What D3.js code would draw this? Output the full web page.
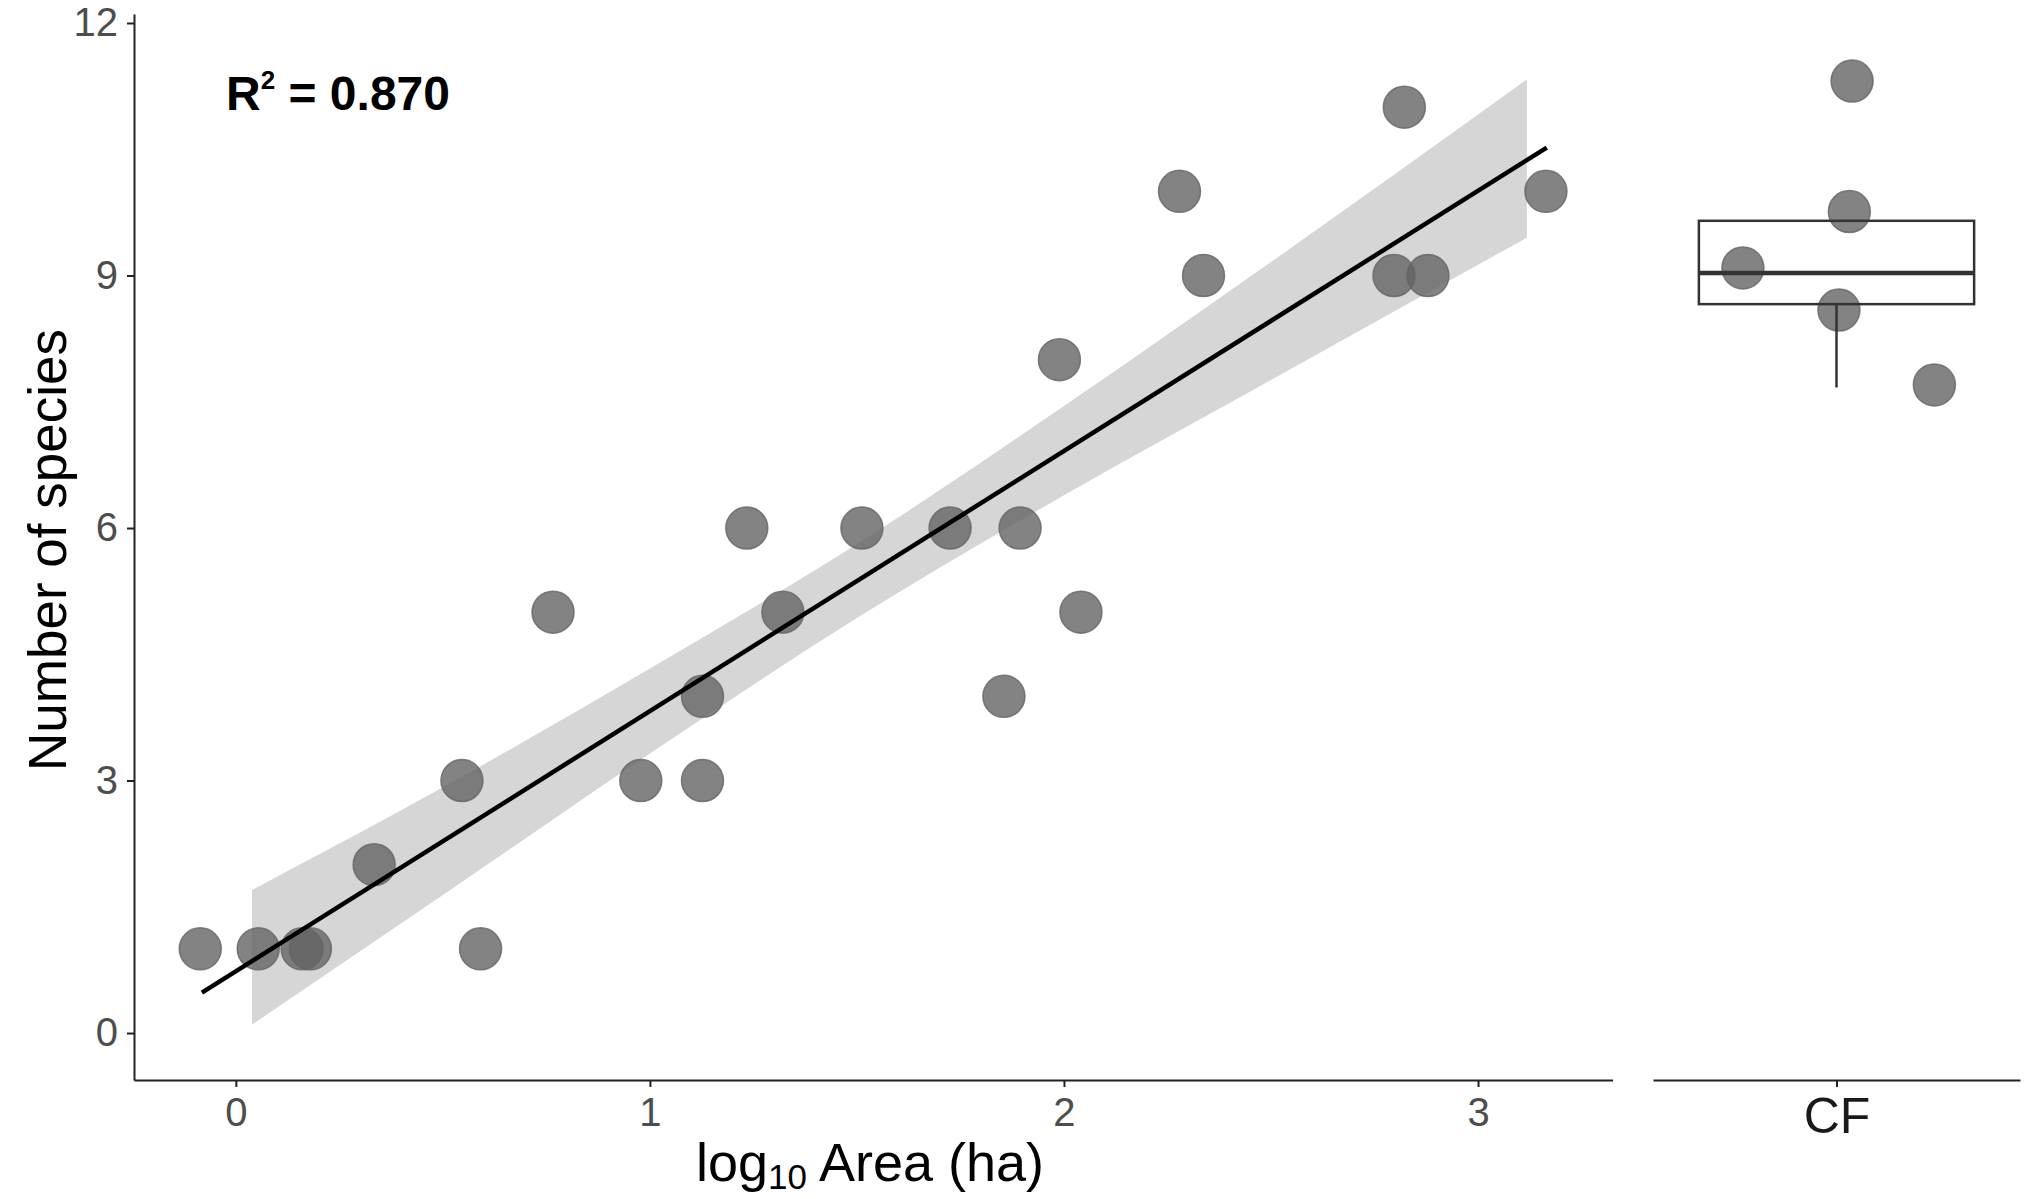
<!DOCTYPE html>
<html>
<head>
<meta charset="utf-8">
<script src="https://cdn.jsdelivr.net/npm/d3@7"></script>
<style>
  body { margin: 0; background: #fff; }
  svg text { font-family: "Liberation Sans", Arial, sans-serif; }
</style>
</head>
<body>
<svg id="chart" width="2024" height="1199"></svg>
<script>
// left panel: log10 area vs number of species
const areaLog = [-0.086, 0.054, 0.160, 0.180, 0.334, 0.546, 0.591, 0.766, 0.978, 1.127, 1.127, 1.234, 1.321,
                 1.512, 1.725, 1.855, 1.894, 1.989, 2.041, 2.279, 2.337, 2.797, 2.822, 2.879, 3.164];
const species = [1, 1, 1, 1, 2, 3, 1, 5, 3, 3, 4, 6, 5, 6, 6, 4, 6, 8, 5, 10, 9, 9, 11, 9, 10];

// fitted line and its confidence band
const fitX = [-0.082, 3.166];
const fitY = [0.48, 10.52];
const bandX = [0.039, 0.5, 1.0, 1.5, 2.0, 2.5, 3.118];
const bandLow = [0.10, 1.64, 3.32, 4.93, 6.39, 7.76, 9.45];
const bandHigh = [1.70, 2.92, 4.33, 5.81, 7.45, 9.16, 11.33];

// right panel: CF
const cfCategory = ["CF"];
const cfJitter = [0.051, 0.042, -0.306, 0.008, 0.320];
const cfSpecies = [11.31, 9.76, 9.09, 8.59, 7.70];
const cfBoxStats = [7.67, 8.66, 9.03, 9.65, 9.65]; // lower whisker, q1, median, q3, upper whisker

const xTicks = [0, 1, 2, 3];
const yTicks = [0, 3, 6, 9, 12];
const r2Label = "0.870";

const svg = d3.select("#chart");

const x = d3.scaleLinear().domain([-0.246, 3.325]).range([134, 1612.6]);
const y = d3.scaleLinear().domain([-0.558, 12.107]).range([1080, 14]);
const xCF = d3.scaleLinear().domain([0.4, 1.6]).range([1653, 2020]);

const pointColor = "#646464";

// ribbon
const band = bandX.map((d, i) => ({ x: d, lo: bandLow[i], hi: bandHigh[i] }));
svg.append("path")
    .datum(band)
    .attr("d", d3.area().curve(d3.curveMonotoneX).x(d => x(d.x)).y0(d => y(d.lo)).y1(d => y(d.hi)))
    .attr("fill", "#d6d6d6");

// points
svg.append("g").selectAll("circle")
    .data(areaLog.map((d, i) => ({ x: d, y: species[i] })))
    .enter().append("circle")
    .attr("cx", d => x(d.x))
    .attr("cy", d => y(d.y))
    .attr("r", 21)
    .attr("fill", pointColor)
    .attr("fill-opacity", 0.8)
    .attr("stroke", pointColor)
    .attr("stroke-opacity", 0.8)
    .attr("stroke-width", 1.5);

// fit line
svg.append("path")
    .datum(fitX.map((d, i) => ({ x: d, y: fitY[i] })))
    .attr("d", d3.line().x(d => x(d.x)).y(d => y(d.y)))
    .attr("fill", "none")
    .attr("stroke", "#000")
    .attr("stroke-width", 4.5);

// CF points
svg.append("g").selectAll("circle")
    .data(cfSpecies.map((d, i) => ({ x: 1 + cfJitter[i], y: d })))
    .enter().append("circle")
    .attr("cx", d => xCF(d.x))
    .attr("cy", d => y(d.y))
    .attr("r", 21)
    .attr("fill", pointColor)
    .attr("fill-opacity", 0.8)
    .attr("stroke", pointColor)
    .attr("stroke-opacity", 0.8)
    .attr("stroke-width", 1.5);

// CF boxplot
const [wLo, q1, med, q3, wHi] = cfBoxStats;
const boxG = svg.append("g").attr("stroke", "#333").attr("fill", "none");
boxG.append("rect")
    .attr("x", xCF(1 - 0.45))
    .attr("y", y(q3))
    .attr("width", xCF(1 + 0.45) - xCF(1 - 0.45))
    .attr("height", y(q1) - y(q3))
    .attr("stroke-width", 2.5);
boxG.append("line")
    .attr("x1", xCF(1 - 0.45)).attr("x2", xCF(1 + 0.45))
    .attr("y1", y(med)).attr("y2", y(med))
    .attr("stroke-width", 4.5);
boxG.append("line")
    .attr("x1", xCF(1)).attr("x2", xCF(1))
    .attr("y1", y(q1)).attr("y2", y(wLo))
    .attr("stroke-width", 2.5);
boxG.append("line")
    .attr("x1", xCF(1)).attr("x2", xCF(1))
    .attr("y1", y(q3)).attr("y2", y(wHi))
    .attr("stroke-width", 2.5);

// axes
function styleAxis(g, size, color) {
    g.select(".domain").attr("stroke", "#222").attr("stroke-width", 2);
    g.selectAll(".tick line").attr("stroke", "#222").attr("stroke-width", 2);
    g.selectAll(".tick text").attr("font-size", size).attr("fill", color)
        .attr("font-family", "Liberation Sans, Arial, sans-serif");
}

svg.append("g")
    .attr("transform", "translate(0,1080)")
    .call(d3.axisBottom(x).tickValues(xTicks).tickFormat(d3.format("d")).tickSize(7).tickSizeOuter(0).tickPadding(11))
    .call(g => styleAxis(g, 40, "#4d4d4d"));

svg.append("g")
    .attr("transform", "translate(134,0)")
    .call(d3.axisLeft(y).tickValues(yTicks).tickFormat(d3.format("d")).tickSize(7).tickSizeOuter(0).tickPadding(9))
    .call(g => styleAxis(g, 40, "#4d4d4d"));

svg.append("g")
    .attr("transform", "translate(0,1080)")
    .call(d3.axisBottom(xCF).tickValues([1]).tickFormat(() => cfCategory[0]).tickSize(7).tickSizeOuter(0).tickPadding(10))
    .call(g => styleAxis(g, 50, "#1a1a1a"));

// axis titles
svg.append("text")
    .attr("transform", "rotate(-90)")
    .attr("x", -550)
    .attr("y", 66)
    .attr("text-anchor", "middle")
    .attr("font-size", 53)
    .attr("fill", "#000")
    .text("Number of species");

const xTitle = svg.append("text")
    .attr("x", 870)
    .attr("y", 1181)
    .attr("text-anchor", "middle")
    .attr("font-size", 54)
    .attr("fill", "#000");
xTitle.append("tspan").text("log");
xTitle.append("tspan").attr("font-size", 35).attr("dy", 8).text("10");
xTitle.append("tspan").attr("dy", -8).text(" Area (ha)");

// R squared annotation
const r2 = svg.append("text")
    .attr("x", 226)
    .attr("y", 110)
    .attr("font-size", 48)
    .attr("font-weight", "bold")
    .attr("fill", "#000");
r2.append("tspan").text("R");
r2.append("tspan").attr("font-size", 26).attr("dy", -21).text("2");
r2.append("tspan").attr("dy", 21).text(" = " + r2Label);
</script>
</body>
</html>
